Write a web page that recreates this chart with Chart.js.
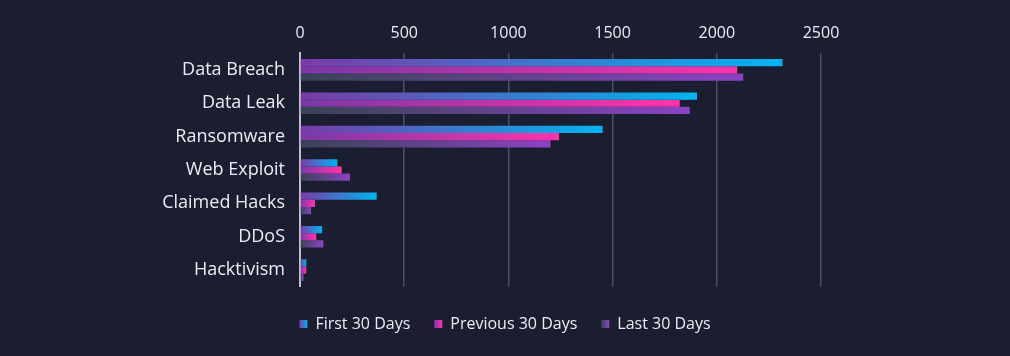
<!DOCTYPE html>
<html>
<head>
<meta charset="utf-8">
<script src="https://cdn.jsdelivr.net/npm/chart.js@4/dist/chart.umd.min.js"></script>
<style>
  html, body { margin: 0; padding: 0; background: #1b1e31; overflow: hidden; }
  #wrap { width: 1010px; height: 356px; position: relative; }
</style>
</head>
<body>
<div id="wrap"><canvas id="c" width="1010" height="356"></canvas></div>
<script>
const categories = ["Data Breach", "Data Leak", "Ransomware", "Web Exploit", "Claimed Hacks", "DDoS", "Hacktivism"];
const first30 = [2315, 1905, 1452, 179, 368, 106, 30];
const previous30 = [2098, 1822, 1243, 200, 72, 78, 30];
const last30 = [2127, 1870, 1202, 240, 53, 112, 17];
const seriesNames = ["First 30 Days", "Previous 30 Days", "Last 30 Days"];
const xTicks = [0, 500, 1000, 1500, 2000, 2500];

const gradStops = [
  ["#7b3aa8", "#00b4f0"],
  ["#7a38a8", "#ff33aa"],
  ["#384456", "#8c42c4"]
];

function barGradient(ctx, idx) {
  const chart = ctx.chart;
  const area = chart.chartArea;
  if (!area || ctx.type !== 'data') return gradStops[idx][1];
  const xs = chart.scales.x;
  const x0 = xs.getPixelForValue(0);
  const x1 = xs.getPixelForValue(ctx.raw);
  const g = chart.ctx.createLinearGradient(x0, 0, Math.max(x1, x0 + 1), 0);
  g.addColorStop(0, gradStops[idx][0]);
  g.addColorStop(1, gradStops[idx][1]);
  return g;
}

const legendGradientPlugin = {
  id: 'legendGradient',
  afterDraw(chart) {
    const lg = chart.legend;
    if (!lg || !lg.legendHitBoxes) return;
    const c = chart.ctx;
    const bw = 8, bh = 8;
    lg.legendHitBoxes.forEach((hb, i) => {
      const top = hb.top + (hb.height - bh) / 2;
      const g = c.createLinearGradient(hb.left, 0, hb.left + bw, 0);
      g.addColorStop(0, gradStops[i][0]);
      g.addColorStop(1, gradStops[i][1]);
      c.save();
      c.fillStyle = '#1b1e31';
      c.fillRect(hb.left - 1, top - 1, bw + 2, bh + 2);
      c.fillStyle = g;
      c.fillRect(hb.left, top, bw, bh);
      c.restore();
    });
  }
};

const bgPlugin = {
  id: 'bg',
  beforeDraw(chart) {
    const c = chart.ctx;
    c.save();
    c.fillStyle = '#1b1e31';
    c.fillRect(0, 0, chart.width, chart.height);
    c.restore();
  }
};

const seriesData = [first30, previous30, last30];
const datasets = seriesData.map((d, i) => ({
  label: seriesNames[i],
  data: d,
  backgroundColor: (ctx) => barGradient(ctx, i),
  borderWidth: 0,
  categoryPercentage: 0.65,
  barPercentage: 1.0
}));

const textColor = '#ececf2';
const fontFamily = "'Open Sans', 'DejaVu Sans', sans-serif";

new Chart(document.getElementById('c'), {
  type: 'bar',
  data: { labels: categories, datasets },
  options: {
    indexAxis: 'y',
    responsive: false,
    animation: false,
    layout: { padding: { top: 14, left: 0, right: 0, bottom: 14 } },
    scales: {
      x: {
        position: 'top',
        min: 0,
        max: 2500,
        afterBuildTicks(scale) { scale.ticks = xTicks.map(v => ({ value: v })); },
        ticks: {
          color: textColor,
          font: { family: fontFamily, size: 16 },
          padding: 10,
          callback: (v) => String(v)
        },
        grid: { color: '#4a4f62', lineWidth: 1.5, drawTicks: false },
        border: { display: false }
      },
      y: {
        position: 'left',
        ticks: { color: textColor, font: { family: fontFamily, size: 18 }, padding: 15 },
        grid: { display: false, drawTicks: false },
        border: { display: true, color: '#bfc0c8', width: 2 },
        afterFit(scale) { scale.width = 300; }
      },
      yR: {
        type: 'linear',
        position: 'right',
        display: true,
        ticks: { display: false },
        grid: { display: false, drawTicks: false },
        border: { display: false },
        afterFit(scale) { scale.width = 189; }
      }
    },
    plugins: {
      legend: {
        position: 'bottom',
        title: { display: true, text: ' ', font: { size: 1 }, padding: { top: 2, bottom: 2 } },
        labels: {
          color: textColor,
          font: { family: fontFamily, size: 16 },
          boxWidth: 8,
          boxHeight: 8,
          padding: 24
        }
      },
      tooltip: { enabled: false }
    }
  },
  plugins: [bgPlugin, legendGradientPlugin]
});
</script>
</body>
</html>
